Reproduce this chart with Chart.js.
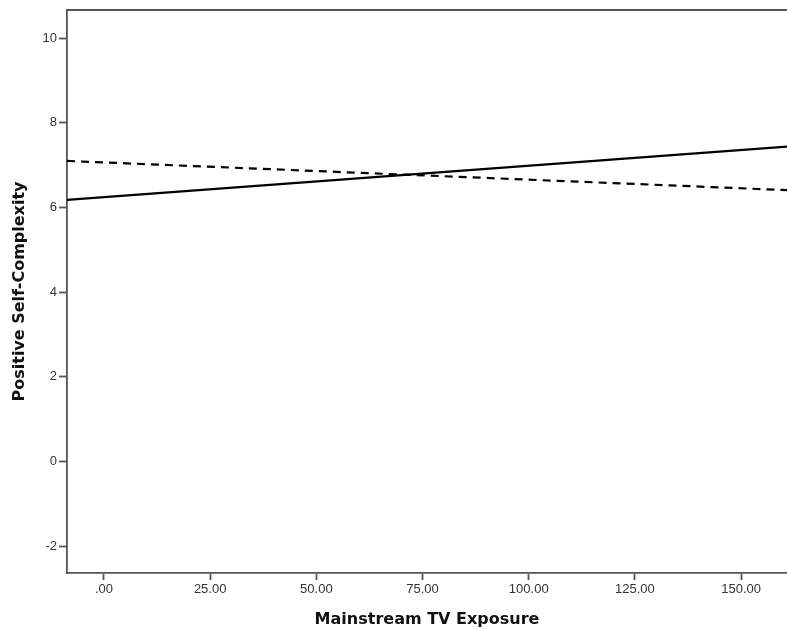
<!DOCTYPE html>
<html>
<head>
<meta charset="utf-8">
<script src="https://cdn.jsdelivr.net/npm/chart.js@4/dist/chart.umd.min.js"></script>
<style>
html,body{margin:0;padding:0;background:#fff;}
#wrap{width:787px;height:630px;}
</style>
</head>
<body>
<div id="wrap"><canvas id="c" width="787" height="630"></canvas></div>
<script>
// Data
const xEnds = [-8.7, 160.8];
const solidLine = [6.18, 7.44];
const dashedLine = [7.10, 6.41];
const xTicks = [0, 25, 50, 75, 100, 125, 150];
const yTicks = [-2, 0, 2, 4, 6, 8, 10];
const xTitle = 'Mainstream TV Exposure';
const yTitle = 'Positive Self-Complexity';

const toPts = (ys) => xEnds.map((x, i) => ({x: x, y: ys[i]}));

const frameColor = '#555555';

const topBorder = {
  id: 'topBorder',
  afterDraw(chart) {
    const {ctx, chartArea} = chart;
    ctx.save();
    ctx.strokeStyle = frameColor;
    ctx.lineWidth = 1.8;
    ctx.beginPath();
    ctx.moveTo(chartArea.left, chartArea.top);
    ctx.lineTo(chartArea.right, chartArea.top);
    ctx.stroke();
    ctx.restore();
  }
};

new Chart(document.getElementById('c'), {
  type: 'scatter',
  data: {
    datasets: [
      {data: toPts(solidLine), showLine: true, borderColor: '#000', borderWidth: 2.2, pointRadius: 0, fill: false},
      {data: toPts(dashedLine), showLine: true, borderColor: '#000', borderWidth: 2.2, borderDash: [8, 6], pointRadius: 0, fill: false}
    ]
  },
  options: {
    responsive: false,
    animation: false,
    layout: {padding: {top: 10, right: 0, left: 0, bottom: 0}},
    plugins: {legend: {display: false}, tooltip: {enabled: false}},
    scales: {
      x: {
        type: 'linear',
        min: xEnds[0],
        max: xEnds[1],
        afterBuildTicks: (s) => { s.ticks = xTicks.map(v => ({value: v})); },
        afterFit: (s) => { s.height = 57; },
        grid: {drawOnChartArea: false, color: frameColor, tickLength: 7, tickWidth: 1.8},
        border: {color: frameColor, width: 1.8},
        ticks: {
          color: '#333',
          font: {family: 'Liberation Sans', size: 13},
          padding: 2,
          maxRotation: 0,
          callback: (v) => v === 0 ? '.00' : Number(v).toFixed(2)
        },
        title: {
          display: true,
          text: xTitle,
          color: '#111',
          font: {family: 'DejaVu Sans', size: 16, weight: 'bold'},
          padding: {top: 0, bottom: 1}
        }
      },
      y: {
        type: 'linear',
        min: -2.638,
        max: 10.667,
        afterBuildTicks: (s) => { s.ticks = yTicks.map(v => ({value: v})); },
        afterFit: (s) => { s.width = 67; },
        grid: {drawOnChartArea: false, color: frameColor, tickLength: 8, tickWidth: 1.8},
        border: {color: frameColor, width: 1.8},
        ticks: {
          color: '#333',
          font: {family: 'Liberation Sans', size: 13},
          padding: 2,
          callback: (v) => String(v)
        },
        title: {
          display: true,
          text: yTitle,
          color: '#111',
          font: {family: 'DejaVu Sans', size: 16, weight: 'bold'},
          padding: {top: 10, bottom: 0}
        }
      }
    }
  },
  plugins: [topBorder]
});
</script>
</body>
</html>
